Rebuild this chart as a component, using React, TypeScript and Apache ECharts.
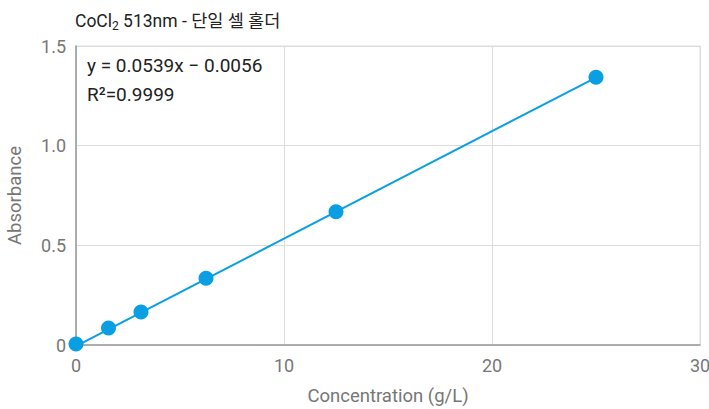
import React, { useEffect, useRef } from "react";
import * as echarts from "echarts";

const concentrations = [0, 1.5625, 3.125, 6.25, 12.5, 25];
const absorbances = [0.005, 0.085, 0.166, 0.335, 0.668, 1.343];
const slope = 0.0539;
const intercept = -0.0056;
const fitRange = [0, 25];
const yTicks = [0, 0.5, 1.0, 1.5];
const xTicks = [0, 10, 20, 30];

const FONT = "Roboto, 'Noto Sans CJK KR', sans-serif";
const BLUE = "#0A9FE2";

export default function App() {
  const ref = useRef<HTMLDivElement>(null);
  useEffect(() => {
    document.body.style.margin = "0";
    const chart = echarts.init(ref.current!, null, { renderer: "svg" });
    const fitLine = fitRange.map((x) => [x, slope * x + intercept]);
    chart.setOption({
      animation: false,
      textStyle: { fontFamily: FONT },
      title: {
        text: "{a|CoCl}{s|2}{a| 513nm - 단일 셀 홀더}",
        left: 70,
        top: 5,
        textStyle: {
          fontWeight: "normal",
          rich: {
            a: { fontSize: 17.5, color: "#222", fontFamily: FONT, fontWeight: "normal" },
            s: { fontSize: 12, color: "#222", fontFamily: FONT, fontWeight: "normal", padding: [10, 0, 0, 0] },
          },
        },
      },
      grid: {
        left: 76,
        right: 9,
        top: 46,
        bottom: 64,
        show: true,
        borderColor: "#dddddd",
        borderWidth: 1,
        outerBoundsMode: "none",
        containLabel: false,
      },
      xAxis: {
        type: "value",
        min: xTicks[0],
        max: xTicks[xTicks.length - 1],
        interval: 10,
        name: "Concentration (g/L)",
        nameLocation: "middle",
        nameGap: 42,
        nameTextStyle: { fontSize: 18.5, color: "#777", fontFamily: FONT },
        axisLine: { show: true, lineStyle: { color: "#999", width: 1.5 } },
        axisTick: { show: false },
        axisLabel: { fontSize: 18, color: "#777", margin: 11, fontFamily: FONT },
        splitLine: { show: true, lineStyle: { color: "#dcdcdc", width: 1 } },
      },
      yAxis: {
        type: "value",
        min: yTicks[0],
        max: yTicks[yTicks.length - 1],
        interval: 0.5,
        name: "Absorbance",
        nameLocation: "middle",
        nameGap: 52,
        nameTextStyle: { fontSize: 18.5, color: "#777", fontFamily: FONT },
        axisLine: { show: true, lineStyle: { color: "#999", width: 1.5 } },
        axisTick: { show: false },
        axisLabel: {
          fontSize: 18,
          color: "#777",
          margin: 10,
          fontFamily: FONT,
          formatter: (v: number) => (v === 0 ? "0" : v.toFixed(1)),
        },
        splitLine: { show: true, lineStyle: { color: "#dcdcdc", width: 1 } },
      },
      graphic: [
        {
          type: "text",
          left: 87,
          top: 56,
          style: {
            text: "y = 0.0539x − 0.0056",
            fontSize: 19,
            fill: "#222",
            fontFamily: FONT,
          },
        },
        {
          type: "text",
          left: 87,
          top: 85,
          style: {
            text: "R²=0.9999",
            fontSize: 19,
            fill: "#222",
            fontFamily: FONT,
          },
        },
      ],
      series: [
        {
          type: "line",
          data: fitLine,
          showSymbol: false,
          lineStyle: { color: BLUE, width: 2 },
          z: 2,
        },
        {
          type: "scatter",
          data: concentrations.map((c, i) => [c, absorbances[i]]),
          symbolSize: 15,
          itemStyle: { color: BLUE, opacity: 1 },
          z: 3,
        },
      ],
    });
    return () => chart.dispose();
  }, []);
  return <div ref={ref} style={{ width: 709, height: 409 }} />;
}
